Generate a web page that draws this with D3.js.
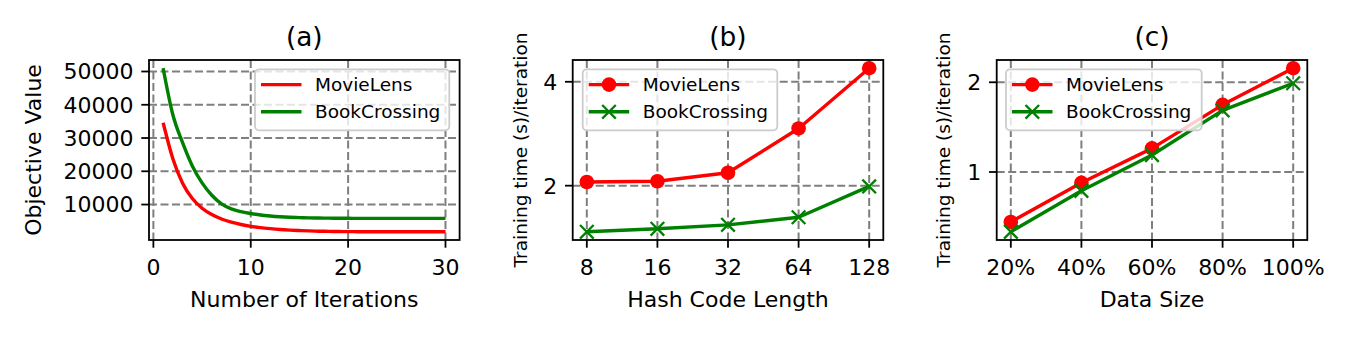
<!DOCTYPE html>
<html>
<head>
<meta charset="utf-8">
<script src="https://cdn.jsdelivr.net/npm/d3@7"></script>
<style>
body { margin: 0; background: #fff; }
text { font-family: "DejaVu Sans", sans-serif; fill: #000; }
</style>
</head>
<body>
<svg id="fig" width="1352" height="339"></svg>
<script>
// (a) objective value per iteration
var iterations = [1,2,3,4,5,6,7,8,9,10,11,12,13,14,15,16,17,18,19,20,21,22,23,24,25,26,27,28,29,30];
var objMovieLens = [34600,23800,16400,11800,8900,7000,5650,4700,4000,3450,3050,2750,2500,2320,2180,2070,1990,1930,1890,1860,1840,1830,1820,1815,1810,1805,1800,1800,1800,1800];
var objBookCrossing = [51000,37000,28600,21600,16500,12800,10200,8700,7850,7300,6850,6550,6330,6180,6080,6000,5950,5910,5880,5860,5850,5845,5840,5840,5835,5835,5830,5830,5830,5830];
var objTicksY = [10000,20000,30000,40000,50000];
var objTicksX = [0,10,20,30];

// (b) training time vs hash code length
var hashLengths = [8,16,32,64,128];
var hashMovieLens = [2.05,2.06,2.18,2.93,4.38];
var hashBookCrossing = [1.47,1.50,1.54,1.62,1.99];
var hashTicksY = [2,4];

// (c) training time vs data size
var dataSizes = [20,40,60,80,100];
var sizeMovieLens = [0.68,0.92,1.20,1.68,2.23];
var sizeBookCrossing = [0.63,0.865,1.14,1.61,1.985];
var sizeTicksY = [1,2];

var seriesNames = ["MovieLens","BookCrossing"];
var seriesColors = ["#ff0000","#008000"];

var svg = d3.select("#fig");
var top_ = 60, bottom_ = 240, boxW = 310.6;

function padLinear(vals) {
	var e = d3.extent(vals), m = (e[1] - e[0]) * 0.05;
	return [e[0] - m, e[1] + m];
}
function padLog(vals) {
	var e = d3.extent(vals).map(Math.log2), m = (e[1] - e[0]) * 0.05;
	return [Math.pow(2, e[0] - m), Math.pow(2, e[1] + m)];
}

function drawPanel(p) {
	var left = p.left, right = left + boxW;
	var x = p.x.range([left, right]);
	var y = p.y.range([bottom_, top_]);
	var g = svg.append("g");

	// grid
	var grid = g.append("g").attr("stroke", "#7f7f7f").attr("stroke-width", 2)
		.attr("stroke-dasharray", "8,3.5").attr("fill", "none");
	p.xTicks.forEach(function(t) {
		grid.append("line").attr("x1", x(t)).attr("x2", x(t)).attr("y1", top_).attr("y2", bottom_);
	});
	p.yTicks.forEach(function(t) {
		grid.append("line").attr("x1", left).attr("x2", right).attr("y1", y(t)).attr("y2", y(t));
	});

	// series
	p.series.forEach(function(s, i) {
		var pts = p.xs.map(function(v, j) { return [v, s[j]]; });
		var line = d3.line().x(function(d) { return x(d[0]); }).y(function(d) { return y(d[1]); })
			.curve(p.smooth ? d3.curveMonotoneX : d3.curveLinear);
		g.append("path").datum(pts).attr("d", line).attr("fill", "none")
			.attr("stroke", seriesColors[i]).attr("stroke-width", 3.4).attr("stroke-linejoin", "round");
		if (p.markers) {
			pts.forEach(function(d) { marker(g, x(d[0]), y(d[1]), i); });
		}
	});

	// axes box + ticks
	var ax = g.append("g").attr("stroke", "#000").attr("stroke-width", 1.8);
	ax.append("rect").attr("x", left).attr("y", top_).attr("width", boxW).attr("height", bottom_ - top_)
		.attr("fill", "none");
	p.xTicks.forEach(function(t, i) {
		ax.append("line").attr("x1", x(t)).attr("x2", x(t)).attr("y1", bottom_).attr("y2", bottom_ + 7.7);
		g.append("text").attr("x", x(t)).attr("y", 274.5).attr("text-anchor", "middle")
			.attr("font-size", 22).text(p.xLabels ? p.xLabels[i] : t);
	});
	p.yTicks.forEach(function(t) {
		ax.append("line").attr("x1", left - 7.7).attr("x2", left).attr("y1", y(t)).attr("y2", y(t));
		g.append("text").attr("x", left - 15.4).attr("y", y(t)).attr("dy", "0.36em")
			.attr("text-anchor", "end").attr("font-size", 22).text(t);
	});

	// labels
	g.append("text").attr("x", left + boxW / 2).attr("y", 46).attr("text-anchor", "middle")
		.attr("font-size", 26.4).text(p.title);
	g.append("text").attr("x", left + boxW / 2).attr("y", 306.5).attr("text-anchor", "middle")
		.attr("font-size", 22).text(p.xTitle);
	g.append("text").attr("transform", "translate(" + p.yTitleX + ",150) rotate(-90)")
		.attr("text-anchor", "middle").attr("font-size", p.yTitleSize).text(p.yTitle);

	// legend
	var lg = g.append("g").attr("transform", "translate(" + (left + p.legendDx) + ",69.3)");
	lg.append("rect").attr("width", p.legendW).attr("height", 61).attr("rx", 4)
		.attr("fill", "#fff").attr("fill-opacity", 0.8).attr("stroke", "#cccccc").attr("stroke-width", 1.8);
	seriesNames.forEach(function(name, i) {
		var cy = 15.3 + i * 27.2;
		lg.append("line").attr("x1", 6).attr("x2", 46.5).attr("y1", cy).attr("y2", cy)
			.attr("stroke", seriesColors[i]).attr("stroke-width", 3.4);
		if (p.markers) marker(lg, 26.3, cy, i);
		lg.append("text").attr("x", 60).attr("y", cy).attr("dy", "0.35em")
			.attr("font-size", 18.5).text(name);
	});
}

function marker(g, cx, cy, i) {
	if (i === 0) {
		g.append("circle").attr("cx", cx).attr("cy", cy).attr("r", 7.3).attr("fill", seriesColors[0]);
	} else {
		var r = 6.8;
		g.append("path").attr("d", "M" + (cx - r) + "," + (cy - r) + "L" + (cx + r) + "," + (cy + r) +
			"M" + (cx - r) + "," + (cy + r) + "L" + (cx + r) + "," + (cy - r))
			.attr("stroke", seriesColors[1]).attr("stroke-width", 2.3).attr("fill", "none");
	}
}

drawPanel({
	left: 149, title: "(a)", xTitle: "Number of Iterations", yTitle: "Objective Value",
	yTitleX: 40.5, yTitleSize: 22,
	x: d3.scaleLinear().domain(padLinear(iterations)),
	y: d3.scaleLinear().domain(padLinear(objMovieLens.concat(objBookCrossing))),
	xs: iterations, series: [objMovieLens, objBookCrossing],
	xTicks: objTicksX, yTicks: objTicksY, markers: false, smooth: true,
	legendDx: 106, legendW: 194.3
});

drawPanel({
	left: 572.7, title: "(b)", xTitle: "Hash Code Length", yTitle: "Training time (s)/iteration",
	yTitleX: 526.5, yTitleSize: 18.5,
	x: d3.scaleLog().base(2).domain(padLog(hashLengths)),
	y: d3.scaleLog().base(2).domain(padLog(hashMovieLens.concat(hashBookCrossing))),
	xs: hashLengths, series: [hashMovieLens, hashBookCrossing],
	xTicks: hashLengths, yTicks: hashTicksY, markers: true,
	legendDx: 10, legendW: 194.6
});

drawPanel({
	left: 996.7, title: "(c)", xTitle: "Data Size", yTitle: "Training time (s)/iteration",
	yTitleX: 950, yTitleSize: 18.5,
	x: d3.scaleLinear().domain(padLinear(dataSizes)),
	y: d3.scaleLog().base(2).domain(padLog(sizeMovieLens.concat(sizeBookCrossing))),
	xs: dataSizes, series: [sizeMovieLens, sizeBookCrossing],
	xTicks: dataSizes, xLabels: dataSizes.map(function(d) { return d + "%"; }),
	yTicks: sizeTicksY, markers: true,
	legendDx: 9.3, legendW: 195.7
});
</script>
</body>
</html>
